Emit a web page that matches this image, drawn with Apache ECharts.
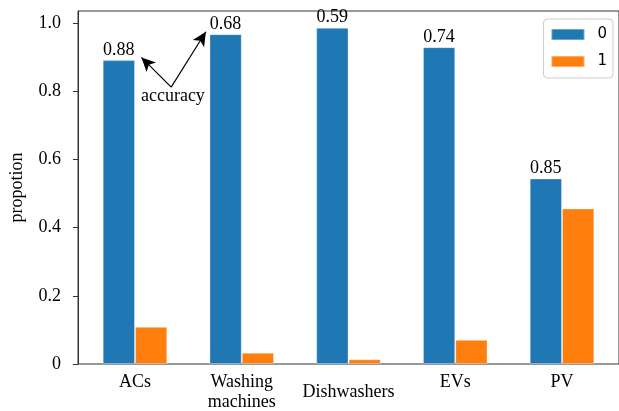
<!DOCTYPE html>
<html>
<head>
<meta charset="utf-8">
<script src="https://cdn.jsdelivr.net/npm/echarts@6/dist/echarts.min.js"></script>
<style>
  html, body { margin: 0; padding: 0; background: #fff; }
  #chart { width: 619px; height: 411px; }
</style>
</head>
<body>
<div id="chart"></div>
<script>
// Appliance categories along the x axis
const categories = ['ACs', 'Washing\nmachines', 'Dishwashers', 'EVs', 'PV'];
// Share of class 0 and class 1 per appliance
const class0 = [0.891, 0.967, 0.986, 0.929, 0.544];
const class1 = [0.109, 0.033, 0.014, 0.071, 0.456];
// Accuracy printed above each class-0 bar
const accuracy = ['0.88', '0.68', '0.59', '0.74', '0.85'];
// Y tick values and legend names
const yTicks = [0, 0.2, 0.4, 0.6, 0.8, 1.0];
const seriesNames = ['0', '1'];
const xTicks = categories.map((_, i) => i);

const SERIF = "'Liberation Serif', 'Times New Roman', serif";
const AXIS_COLOR = '#333';

const chart = echarts.init(document.getElementById('chart'), null, { renderer: 'canvas' });

function catLabel(v) {
  const i = Math.round(v);
  if (Math.abs(v - i) > 1e-6 || i < 0 || i >= categories.length) return '';
  const name = categories[i];
  if (name === 'Dishwashers') return '{d|' + name + '}';
  return name.split('\n').map(s => '{c|' + s + '}').join('\n');
}

const option = {
  animation: false,
  backgroundColor: '#fff',
  grid: {
    left: 76, right: -2, top: 11, bottom: 47,
    show: true, borderColor: AXIS_COLOR, borderWidth: 1, backgroundColor: 'transparent'
  },
  legend: {
    data: seriesNames,
    orient: 'vertical',
    right: 6, top: 19,
    icon: 'rect',
    itemWidth: 33, itemHeight: 11, itemGap: 12,
    padding: [8, 6, 9, 7],
    borderColor: '#ccc', borderWidth: 1, borderRadius: 4,
    backgroundColor: 'rgba(255,255,255,0.8)',
    textStyle: {
      fontFamily: "'DejaVu Sans', sans-serif", fontSize: 15, color: '#000',
      lineHeight: 11, padding: [0, 0, 0, 8]
    }
  },
  xAxis: {
    type: 'value',
    min: -0.534, max: 4.534,
    splitLine: { show: false },
    axisLine: { show: false },
    axisTick: { show: false },
    axisLabel: {
      customValues: xTicks,
      margin: 8,
      formatter: catLabel,
      rich: {
        c: { fontFamily: SERIF, fontSize: 18, color: '#000', lineHeight: 20 },
        d: { fontFamily: SERIF, fontSize: 18, color: '#000', lineHeight: 40 }
      }
    }
  },
  yAxis: {
    type: 'value',
    min: 0, max: 1.035,
    name: 'propotion',
    nameLocation: 'middle',
    nameRotate: 90,
    nameGap: 52,
    nameTextStyle: { fontFamily: SERIF, fontSize: 18, color: '#000' },
    splitLine: { show: false },
    axisLine: { show: true, onZero: false, lineStyle: { color: AXIS_COLOR, width: 1 } },
    axisTick: { show: true, customValues: yTicks, length: 5, lineStyle: { color: AXIS_COLOR } },
    axisLabel: {
      customValues: yTicks,
      margin: 17,
      fontFamily: SERIF, fontSize: 18, color: '#000',
      formatter: v => (v === 0 ? '0' : v.toFixed(1))
    }
  },
  series: [
    {
      name: seriesNames[0],
      type: 'bar',
      barWidth: 32.3,
      barGap: '0%',
      itemStyle: { color: '#1f77b4', borderColor: 'rgba(255,255,255,0.35)', borderWidth: 1 },
      label: {
        show: true, position: 'top', distance: 1,
        fontFamily: SERIF, fontSize: 18, color: '#000',
        formatter: p => accuracy[p.dataIndex]
      },
      data: class0.map((v, i) => [i, v])
    },
    {
      name: seriesNames[1],
      type: 'bar',
      barWidth: 32.3,
      barGap: '0%',
      itemStyle: { color: '#ff7f0e', borderColor: 'rgba(255,255,255,0.35)', borderWidth: 1 },
      data: class1.map((v, i) => [i, v])
    },
    {
      // "accuracy" note with arrows pointing at the first two accuracy values
      name: 'note',
      type: 'line',
      data: [],
      silent: true,
      markLine: {
        silent: true,
        symbol: ['none', 'arrow'],
        symbolSize: [10, 14],
        lineStyle: { color: '#000', width: 1.2, type: 'solid' },
        label: { show: false },
        data: [
          [{ coord: [0.339, 0.812] }, { coord: [0.060, 0.899] }],
          [{ coord: [0.339, 0.812] }, { coord: [0.664, 0.974] }]
        ]
      },
      markPoint: {
        silent: true,
        symbol: 'circle',
        symbolSize: 0,
        label: {
          show: true, position: 'inside',
          fontFamily: SERIF, fontSize: 18, color: '#000',
          formatter: 'accuracy'
        },
        data: [{ coord: [0.355, 0.786], value: 'accuracy' }]
      }
    }
  ]
};

chart.setOption(option);
</script>
</body>
</html>
